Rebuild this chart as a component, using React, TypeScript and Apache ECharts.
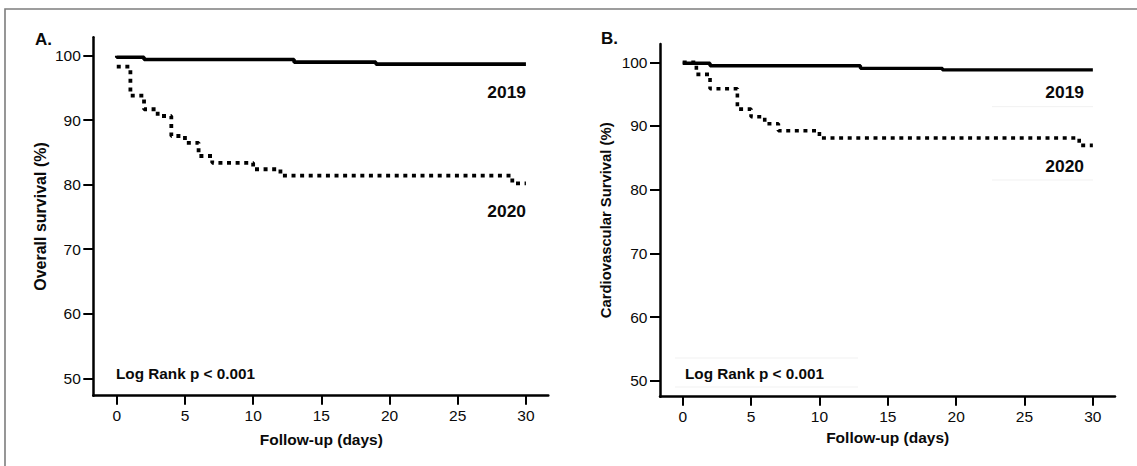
import React, { useEffect, useRef } from "react";
import * as echarts from "echarts";

// ---- data ----
const dayTicks = [0, 5, 10, 15, 20, 25, 30];
const pctTicks = [50, 60, 70, 80, 90, 100];

// Panel A: overall survival (%)
const timeOS2019 = [0, 0, 2, 13, 19, 30];
const survOS2019 = [100, 99.75, 99.4, 99.0, 98.7, 98.7];
const timeOS2020 = [0, 1, 2, 3, 4, 5, 6, 7, 10, 12, 29, 30];
const survOS2020 = [98.3, 93.8, 91.7, 90.65, 87.55, 86.5, 84.45, 83.4, 82.4, 81.4, 80.2, 80.2];

// Panel B: cardiovascular survival (%)
const timeCV2019 = [0, 2, 13, 19, 30];
const survCV2019 = [99.85, 99.45, 99.05, 98.8, 98.8];
const timeCV2020 = [0, 1, 2, 4, 5, 6, 7, 10, 29, 30];
const survCV2020 = [100, 98.1, 95.85, 92.65, 91.45, 90.35, 89.25, 88.1, 86.95, 86.95];

const yearLabels = ["2019", "2020"];
const panelLabels = ["A.", "B."];
const yTitles = ["Overall survival (%)", "Cardiovascular Survival (%)"];
const xTitle = "Follow-up (days)";
const logRank = "Log Rank p < 0.001";

const zip = (t: number[], s: number[]) => t.map((v, i) => [v, s[i]]);

const FONT = "'Liberation Sans', Arial, Helvetica, sans-serif";

function makeXAxis(gridIndex: number, min: number, max: number) {
  return {
    type: "value",
    gridIndex,
    min,
    max,
    axisLine: { show: true, onZero: false, lineStyle: { color: "#000", width: 2.5 } },
    axisTick: { show: true, length: 9, customValues: dayTicks, lineStyle: { color: "#000", width: 2 } },
    axisLabel: {
      show: true,
      customValues: dayTicks,
      margin: 12,
      color: "#0a0a0a",
      fontSize: 15.5,
      fontFamily: FONT,
    },
    splitLine: { show: false },
  };
}

function makeYAxis(gridIndex: number, min: number, max: number) {
  return {
    type: "value",
    gridIndex,
    min,
    max,
    axisLine: { show: true, onZero: false, lineStyle: { color: "#000", width: 2.5 } },
    axisTick: { show: true, length: 10, customValues: pctTicks, lineStyle: { color: "#000", width: 2 } },
    axisLabel: {
      show: true,
      customValues: pctTicks,
      margin: 12.5,
      color: "#0a0a0a",
      fontSize: 15.5,
      fontFamily: FONT,
    },
    splitLine: { show: false },
  };
}

function solid(xi: number, data: number[][], w: number) {
  return {
    type: "line",
    xAxisIndex: xi,
    yAxisIndex: xi,
    step: "end",
    symbol: "none",
    data,
    lineStyle: { color: "#000", width: w, type: "solid" },
    z: 3,
  };
}

function dotted(xi: number, data: number[][], w: number) {
  return {
    type: "line",
    xAxisIndex: xi,
    yAxisIndex: xi,
    step: "end",
    symbol: "none",
    data,
    lineStyle: { color: "#000", width: w, type: [4, 4.6], cap: "butt" },
    z: 2,
  };
}

function txt(x: number, y: number, text: string, size: number, align: string, bold = true, rotation = 0) {
  return {
    type: "text",
    x,
    y,
    rotation,
    style: {
      text,
      fill: "#0a0a0a",
      font: `${bold ? "bold " : ""}${size}px ${FONT}`,
      align,
      verticalAlign: "middle",
    },
    z: 10,
  };
}

function faint(x1: number, y1: number, x2: number, y2: number) {
  return {
    type: "line",
    shape: { x1, y1, x2, y2 },
    style: { stroke: "#f1f1f1", lineWidth: 1 },
    z: 1,
  };
}

export default function App() {
  const ref = useRef<HTMLDivElement>(null);
  useEffect(() => {
    if (!ref.current) return;
    const chart = echarts.init(ref.current, null, { renderer: "svg" });
    const option: any = {
      animation: false,
      backgroundColor: "#fff",
      grid: [
        { left: 93.3, top: 37.3, width: 455, height: 358.4, outerBoundsMode: "none", containLabel: false },
        { left: 660, top: 44, width: 455, height: 352.7, outerBoundsMode: "none", containLabel: false },
      ],
      xAxis: [makeXAxis(0, -1.72, 31.64), makeXAxis(1, -1.66, 31.62)],
      yAxis: [makeYAxis(0, 47.3, 102.85), makeYAxis(1, 47.49, 102.87)],
      series: [
        solid(0, zip(timeOS2019, survOS2019), 3.6),
        dotted(0, zip(timeOS2020, survOS2020), 3.8),
        solid(1, zip(timeCV2019, survCV2019), 3.4),
        dotted(1, zip(timeCV2020, survCV2020), 3.6),
      ],
      graphic: [
        {
          type: "polyline",
          shape: { points: [[5, 466], [5, 9], [1137, 9]] },
          style: { stroke: "#7d7d7d", lineWidth: 1.6, fill: "none" },
          z: 10,
        },
        faint(675, 358, 858, 358),
        faint(675, 387, 858, 387),
        faint(992, 106.7, 1093, 106.7),
        faint(992, 180, 1093, 180),
        txt(35, 39, panelLabels[0], 17, "left"),
        txt(601, 38.5, panelLabels[1], 17, "left"),
        txt(40, 216.5, yTitles[0], 16, "center", true, Math.PI / 2),
        txt(606, 220.3, yTitles[1], 14.8, "center", true, Math.PI / 2),
        txt(321.3, 439.3, xTitle, 15.5, "center"),
        txt(887.7, 437.3, xTitle, 15.5, "center"),
        txt(116, 373.3, logRank, 15.3, "left"),
        txt(685, 373.3, logRank, 15.3, "left"),
        txt(526, 91.7, yearLabels[0], 17.4, "right"),
        txt(526, 210.7, yearLabels[1], 17.4, "right"),
        txt(1084, 91.7, yearLabels[0], 17.4, "right"),
        txt(1084, 165.7, yearLabels[1], 17.4, "right"),
      ],
    };
    chart.setOption(option);
    return () => chart.dispose();
  }, []);
  return (
    <div
      ref={ref}
      style={{ position: "fixed", left: 0, top: 0, width: 1137, height: 466, background: "#fff" }}
    />
  );
}
